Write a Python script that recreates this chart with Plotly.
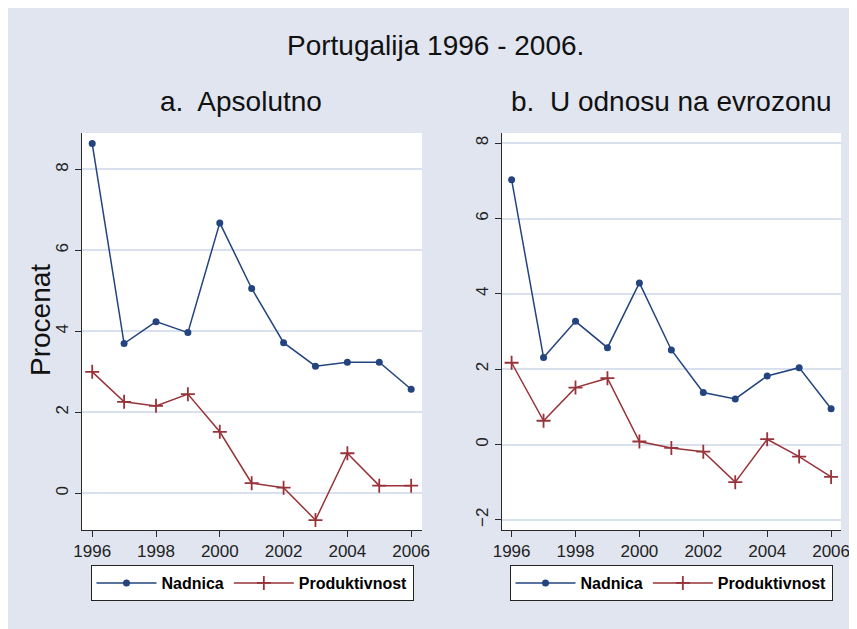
"""
Portugalija 1996 - 2006: nadnica vs produktivnost, two panels
"""

import plotly.graph_objects as go

# the page body adds an 8px margin, so the figure is drawn 8px smaller
OFF = 8
W, H = 857 - OFF, 629 - OFF

years = [1996, 1997, 1998, 1999, 2000, 2001, 2002, 2003, 2004, 2005, 2006]

# panel a: apsolutno
nadnica_aps = [8.64, 3.70, 4.24, 3.97, 6.68, 5.06, 3.72, 3.14, 3.24, 3.24, 2.57]
produkt_aps = [3.00, 2.26, 2.16, 2.45, 1.52, 0.25, 0.14, -0.66, 0.99, 0.19, 0.19]

# panel b: u odnosu na evrozonu
nadnica_rel = [7.03, 2.31, 3.27, 2.57, 4.29, 2.51, 1.38, 1.21, 1.82, 2.04, 0.95]
produkt_rel = [2.17, 0.63, 1.51, 1.76, 0.08, -0.09, -0.19, -1.00, 0.14, -0.32, -0.86]

x_ticks = [1996, 1998, 2000, 2002, 2004, 2006]
y_ticks_a = [0, 2, 4, 6, 8]
y_ticks_b = [-2, 0, 2, 4, 6, 8]

NAVY = "#23447e"
MAROON = "#973339"
BG = "#e0e5f0"
FONT = "Liberation Sans, Arial, sans-serif"


def px_x(p):
    # screen pixel -> paper fraction
    return (p - OFF) / W


def px_y(p):
    return 1 - (p - OFF) / H


fig = go.Figure()


def add_pair(nad, prod, xa, ya, leg):
    fig.add_trace(go.Scatter(
        x=years, y=nad, name="Nadnica", xaxis=xa, yaxis=ya, legend=leg,
        mode="lines+markers",
        line=dict(color=NAVY, width=1.5),
        marker=dict(symbol="circle", size=7, color=NAVY),
    ))
    fig.add_trace(go.Scatter(
        x=years, y=prod, name="Produktivnost", xaxis=xa, yaxis=ya, legend=leg,
        mode="lines+markers",
        line=dict(color=MAROON, width=1.5),
        marker=dict(symbol="cross-thin", size=10, color=MAROON,
                    line=dict(color=MAROON, width=1.8)),
    ))


add_pair(nadnica_aps, produkt_aps, "x", "y", "legend")
add_pair(nadnica_rel, produkt_rel, "x2", "y2", "legend2")

axis_common = dict(
    showline=True, linecolor="#2a2a2a", linewidth=1,
    ticks="outside", ticklen=6, tickcolor="#2a2a2a",
    tickfont=dict(size=17, color="#222", family=FONT),
    zeroline=False, automargin=False,
)

fig.update_layout(
    width=W, height=H,
    template="none",
    paper_bgcolor=BG,
    plot_bgcolor="white",
    margin=dict(l=0, r=0, t=0, b=0),
    font=dict(family=FONT, color="#111"),
    showlegend=True,
    xaxis=dict(domain=[px_x(82), px_x(422)], range=[1995.68, 2006.34],
               tickvals=x_ticks, showgrid=False, anchor="y", **axis_common),
    yaxis=dict(domain=[px_y(530), px_y(133)], range=[-0.906, 8.90],
               tickvals=y_ticks_a, tickangle=-90, showgrid=True,
               gridcolor="#dae1ee", gridwidth=1.5, anchor="x", **axis_common),
    xaxis2=dict(domain=[px_x(501.7), px_x(841)], range=[1995.69, 2006.31],
                tickvals=x_ticks, showgrid=False, anchor="y2", **axis_common),
    yaxis2=dict(domain=[px_y(530), px_y(133)], range=[-2.27, 8.27],
                tickvals=y_ticks_b, tickangle=-90, showgrid=True,
                gridcolor="#dae1ee", gridwidth=1.5, anchor="x2", **axis_common),
)

legend_common = dict(
    orientation="h", bgcolor="white", bordercolor="#222", borderwidth=1,
    font=dict(size=16, family=FONT, color="black", weight="bold"),
    itemwidth=60,
    xanchor="center", yanchor="middle", itemclick=False,
)
fig.update_layout(
    legend=dict(x=px_x(252), y=px_y(583), **legend_common),
    legend2=dict(x=px_x(671), y=px_y(583), **legend_common),
)

# titles
titles = [
    ("Portugalija 1996 - 2006.", 435, 45, 0),
    ("a.  Apsolutno", 241, 101, 0),
    ("b.  U odnosu na evrozonu", 671, 101, 0),
    ("Procenat", 40, 320, -90),
]
for text, x, y, ang in titles:
    fig.add_annotation(
        text=text, x=px_x(x), y=px_y(y), xref="paper", yref="paper",
        showarrow=False, textangle=ang, xanchor="center", yanchor="middle",
        font=dict(size=28, family=FONT, color="#111"),
    )

fig.write_html("out.html")
